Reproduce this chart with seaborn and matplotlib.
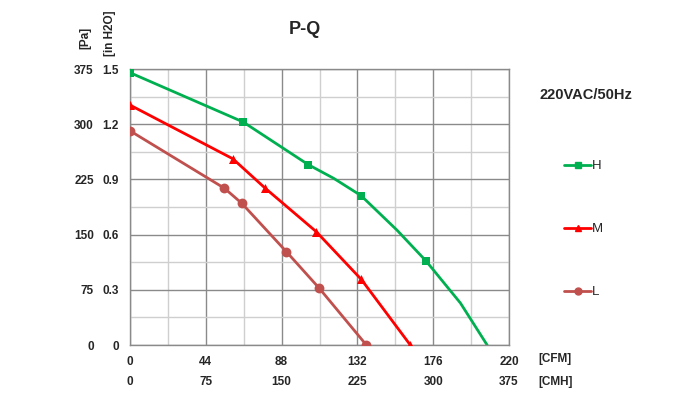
import pandas as pd
import numpy as np
import matplotlib
matplotlib.use('Agg')
import matplotlib.pyplot as plt
from matplotlib.lines import Line2D
from matplotlib.ticker import FixedLocator, MultipleLocator
import seaborn as sns

# Kennlinien, CFM / Pa
speeds = ['H', 'M', 'L']
h_cfm = [0, 65.7, 103.5, 118.2, 134.1, 155.0, 171.9, 191.8, 207.3]
h_pa = [370, 303, 245, 226.5, 203, 156, 114, 57, 0]
h_marked = [True, True, True, False, True, False, True, False, False]
m_cfm = [0, 59.7, 78.5, 108.1, 134.3, 162.7]
m_pa = [326, 253, 213, 154, 89, 0]
l_cfm = [0, 54.8, 64.9, 90.7, 109.9, 137.2]
l_pa = [291, 213, 192.5, 127, 77, 0]

cfm_ticks = [0, 44, 88, 132, 176, 220]
cmh_ticks = [0, 75, 150, 225, 300, 375]
pa_ticks = [0, 75, 150, 225, 300, 375]
inh2o_ticks = [0, 0.3, 0.6, 0.9, 1.2, 1.5]
inh2o_labels = ['0', '0.3', '0.6', '0.9', '1.2', '1.5']

colors = {'H': '#00b050', 'M': '#ff0000', 'L': '#c0504d'}
markers = {'H': 's', 'M': '^', 'L': 'o'}
sizes = {'H': 26, 'M': 42, 'L': 50}

df = pd.concat([
    pd.DataFrame({'cfm': h_cfm, 'pa': h_pa, 'speed': 'H', 'marked': h_marked}),
    pd.DataFrame({'cfm': m_cfm, 'pa': m_pa, 'speed': 'M', 'marked': True}),
    pd.DataFrame({'cfm': l_cfm, 'pa': l_pa, 'speed': 'L', 'marked': True}),
], ignore_index=True)

sns.set_style('white')
plt.rcParams['font.family'] = ['Liberation Sans', 'DejaVu Sans']

fig = plt.figure(figsize=(6.91, 3.99), dpi=100)
ax = fig.add_axes([130 / 691, 1 - 345 / 399, 379 / 691, 276 / 399])

# Gitter
ax.set_xlim(0, 220)
ax.set_ylim(0, 375)
ax.xaxis.set_major_locator(FixedLocator(cfm_ticks))
ax.xaxis.set_minor_locator(MultipleLocator(22))
ax.yaxis.set_major_locator(FixedLocator(pa_ticks))
ax.yaxis.set_minor_locator(MultipleLocator(37.5))
ax.grid(which='major', color='#8a8a8a', lw=1.0)
ax.grid(which='minor', color='#cfcfcf', lw=1.0)
ax.set_axisbelow(True)
for s in ax.spines.values():
    s.set_color('#8a8a8a')
    s.set_linewidth(1.0)

sns.lineplot(data=df, x='cfm', y='pa', hue='speed', palette=colors, sort=False,
             estimator=None, legend=False, lw=2.0, ax=ax)
for sp in speeds:
    sub = df[(df['speed'] == sp) & df['marked']]
    sns.scatterplot(data=sub, x='cfm', y='pa', color=colors[sp], marker=markers[sp],
                    s=sizes[sp], linewidth=0, legend=False, ax=ax, zorder=3)

ax.set_xlabel('')
ax.set_ylabel('')
ax.tick_params(which='both', length=0)
ax.tick_params(axis='y', pad=26)
ax.tick_params(axis='x', pad=8)
ax.set_yticklabels([str(v) for v in pa_ticks], fontsize=8.5, fontweight='bold')
ax.set_xticklabels([str(v) for v in cfm_ticks], fontsize=8.5, fontweight='bold')

# zweite Skalen: in H2O und CMH
sec_y = ax.secondary_yaxis('left', functions=(lambda p: p / 250.0, lambda w: w * 250.0))
sec_y.set_yticks(inh2o_ticks)
sec_y.set_yticklabels(inh2o_labels, fontsize=8.5, fontweight='bold')
sec_y.tick_params(length=0, pad=8)
sec_y.spines['left'].set_visible(False)

sec_x = ax.secondary_xaxis('bottom', functions=(lambda q: q * 375 / 220, lambda q: q * 220 / 375))
sec_x.set_xticks(cmh_ticks)
sec_x.set_xticklabels([str(v) for v in cmh_ticks], fontsize=8.5, fontweight='bold')
sec_x.tick_params(length=0, pad=22)
sec_x.spines['bottom'].set_visible(False)

# Texte
fig.text(305 / 691, 1 - 30 / 399, 'P-Q', ha='center', va='center', fontsize=13, fontweight='bold')
fig.text(85 / 691, 1 - 38 / 399, '[Pa]', ha='center', va='center', rotation=90,
         fontsize=8.5, fontweight='bold')
fig.text(110 / 691, 1 - 33 / 399, '[in H2O]', ha='center', va='center', rotation=90,
         fontsize=8.5, fontweight='bold')
fig.text(538 / 691, 1 - 359 / 399, '[CFM]', ha='left', va='center', fontsize=8.5, fontweight='bold')
fig.text(538 / 691, 1 - 382 / 399, '[CMH]', ha='left', va='center', fontsize=8.5, fontweight='bold')
fig.text(540 / 691, 1 - 95 / 399, '220VAC/50Hz', ha='left', va='center', fontsize=10.5, fontweight='bold')

handles = [Line2D([], [], color=colors[s], marker=markers[s], markersize=5, lw=2.0) for s in speeds]
fig.legend(handles, speeds, loc='upper left', bbox_to_anchor=(564 / 691, 1 - 160 / 399),
           frameon=False, fontsize=9.5, handlelength=2.05, handletextpad=0.1,
           labelspacing=3.85, borderpad=0, borderaxespad=0)

fig.savefig('out.png', dpi=100)
